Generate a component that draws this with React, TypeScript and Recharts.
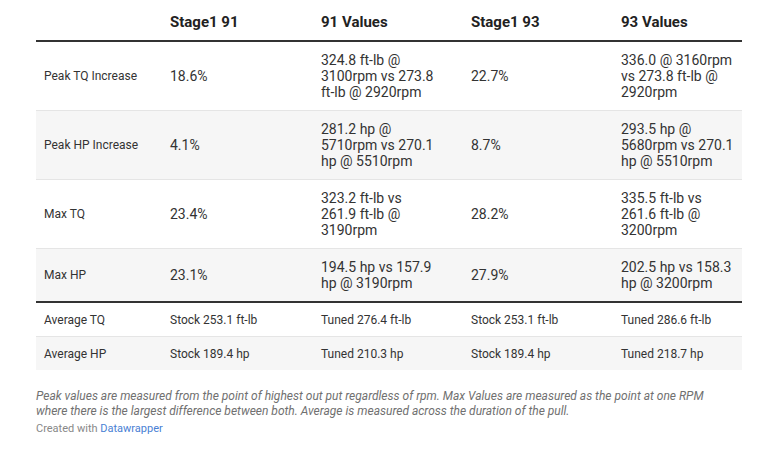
import { ScatterChart, Scatter, XAxis, YAxis, ReferenceArea, ReferenceLine } from 'recharts';

const columns = ['', 'Stage1 91', '91 Values', 'Stage1 93', '93 Values'];

const metrics = ['Peak TQ Increase', 'Peak HP Increase', 'Max TQ', 'Max HP'];
const stage91 = ['18.6%', '4.1%', '23.4%', '23.1%'];
const values91 = [
  '324.8 ft-lb @ 3100rpm vs 273.8 ft-lb @ 2920rpm',
  '281.2 hp @ 5710rpm vs 270.1 hp @ 5510rpm',
  '323.2 ft-lb vs 261.9 ft-lb @ 3190rpm',
  '194.5 hp vs 157.9 hp @ 3190rpm'
];
const stage93 = ['22.7%', '8.7%', '28.2%', '27.9%'];
const values93 = [
  '336.0 @ 3160rpm vs 273.8 ft-lb @ 2920rpm',
  '293.5 hp @ 5680rpm vs 270.1 hp @ 5510rpm',
  '335.5 ft-lb vs 261.6 ft-lb @ 3200rpm',
  '202.5 hp vs 158.3 hp @ 3200rpm'
];

const averages = ['Average TQ', 'Average HP'];
const avgStage91 = ['Stock 253.1 ft-lb', 'Stock 189.4 hp'];
const avgValues91 = ['Tuned 276.4 ft-lb', 'Tuned 210.3 hp'];
const avgStage93 = ['Stock 253.1 ft-lb', 'Stock 189.4 hp'];
const avgValues93 = ['Tuned 286.6 ft-lb', 'Tuned 218.7 hp'];

const note =
  'Peak values are measured from the point of highest out put regardless of rpm. Max Values are measured as the point at one RPM where there is the largest difference between both. Average is measured across the duration of the pull.';

// layout
const W = 779;
const H = 460;
const TABLE_LEFT = 36;
const TABLE_W = 706;
const COL_X = [8, 134, 285, 435, 585];
const WRAP = 116;
const FONT = 'Roboto, sans-serif';

const ctx = typeof document !== 'undefined' ? document.createElement('canvas').getContext('2d') : null;

function wrap(text: string, font: string, width: number) {
  if (!ctx) return [text];
  ctx.font = font;
  const lines: string[] = [];
  let cur = '';
  for (const w of text.split(' ')) {
    const test = cur ? cur + ' ' + w : w;
    if (cur && ctx.measureText(test).width > width) {
      lines.push(cur);
      cur = w;
    } else cur = test;
  }
  if (cur) lines.push(cur);
  return lines;
}

type Cell = { x: number; y: number; lines: string[]; size: number; lh: number; bold?: boolean };

function buildTable() {
  const cells: Cell[] = [];
  const bands: { y1: number; y2: number }[] = [];
  const rules: { y: number; w: number; color: string }[] = [];

  columns.forEach((c, i) => {
    if (c) cells.push({ x: COL_X[i], y: 22, lines: [c], size: 15, lh: 18, bold: true });
  });
  rules.push({ y: 41, w: 2, color: '#333' });

  let top = 42;
  metrics.forEach((m, r) => {
    const row = [m, stage91[r], values91[r], stage93[r], values93[r]];
    const wrapped = row.map((t, i) => (i === 0 ? [t] : wrap(t, `14px ${FONT}`, WRAP)));
    const n = Math.max(...wrapped.map((l) => l.length));
    const h = n * 16 + 20;
    if (r % 2 === 1) bands.push({ y1: top, y2: top + h });
    wrapped.forEach((l, i) => cells.push({ x: COL_X[i], y: top + h / 2, lines: l, size: i === 0 ? 12 : 14, lh: 16 }));
    top += h;
    if (r < metrics.length - 1) {
      rules.push({ y: top + 0.5, w: 1, color: '#e5e5e5' });
      top += 1;
    }
  });
  rules.push({ y: top + 1, w: 2, color: '#333' });
  top += 2;

  averages.forEach((a, r) => {
    const row = [a, avgStage91[r], avgValues91[r], avgStage93[r], avgValues93[r]];
    const h = 33;
    if ((metrics.length + r) % 2 === 1) bands.push({ y1: top, y2: top + h });
    row.forEach((t, i) => cells.push({ x: COL_X[i], y: top + h / 2, lines: [t], size: 12, lh: 14 }));
    top += h;
    if (r < averages.length - 1) {
      rules.push({ y: top + 0.5, w: 1, color: '#e5e5e5' });
      top += 1;
    }
  });

  return { cells, bands, rules };
}

const CellText = (props: any) => {
  const { cx, cy, payload } = props;
  const { lines, size, lh, bold } = payload as Cell;
  const start = cy - ((lines.length - 1) * lh) / 2;
  return (
    <text fontSize={size} fontWeight={bold ? 700 : 400} fill={bold ? '#222' : '#333'} fontFamily={FONT}>
      {lines.map((l, i) => (
        <tspan key={i} x={cx} y={start + i * lh} dy="0.35em">
          {l}
        </tspan>
      ))}
    </text>
  );
};

export default function App() {
  const { cells, bands, rules } = buildTable();

  return (
    <div style={{ position: 'absolute', left: 0, top: 0, width: W, height: H, background: '#fff' }}>
      <ScatterChart
        width={W}
        height={H}
        margin={{ top: 0, right: W - TABLE_LEFT - TABLE_W, bottom: 0, left: TABLE_LEFT }}
      >
        <XAxis type="number" dataKey="x" domain={[0, TABLE_W]} hide />
        <YAxis type="number" dataKey="y" domain={[0, H]} reversed hide />
        {bands.map((b, i) => (
          <ReferenceArea key={`b-${i}`} x1={0} x2={TABLE_W} y1={b.y1} y2={b.y2} fill="#f6f6f6" fillOpacity={1} stroke="none" />
        ))}
        {rules.map((r, i) => (
          <ReferenceLine key={`r-${i}`} y={r.y} stroke={r.color} strokeWidth={r.w} />
        ))}
        <Scatter data={cells} shape={CellText} isAnimationActive={false} />
      </ScatterChart>
      <div
        style={{
          position: 'absolute',
          left: TABLE_LEFT,
          top: 389,
          width: 700,
          fontFamily: FONT,
          fontStyle: 'italic',
          fontSize: 12,
          lineHeight: '14.5px',
          color: '#707070'
        }}
      >
        {note}
      </div>
      <div
        style={{
          position: 'absolute',
          left: TABLE_LEFT,
          top: 422,
          fontFamily: FONT,
          fontSize: 11,
          lineHeight: '14px',
          color: '#888'
        }}
      >
        Created with <span style={{ color: '#4a7fd4' }}>Datawrapper</span>
      </div>
    </div>
  );
}
